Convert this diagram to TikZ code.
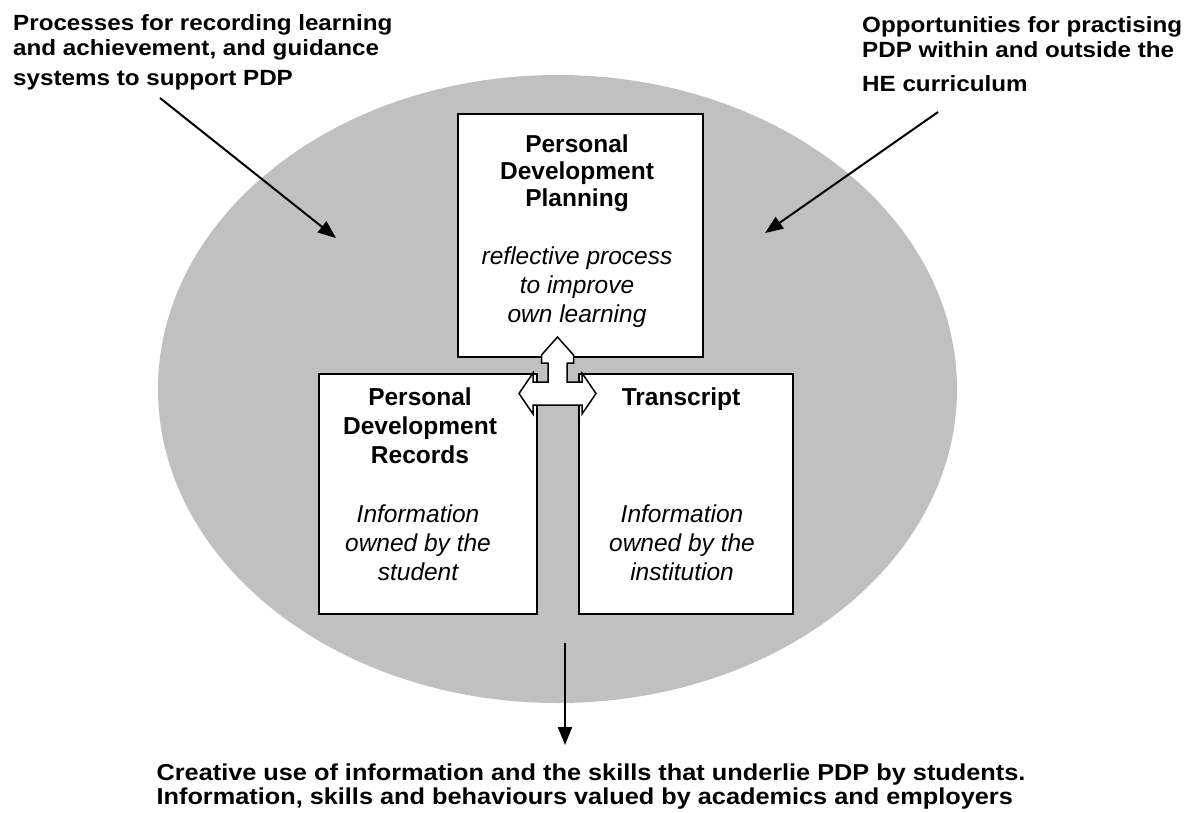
\documentclass[tikz,border=0pt]{standalone}
\usepackage{fontspec}
\setmainfont{Liberation Sans}
\newfontfamily\lblfont[FakeStretch=1.1]{Liberation Sans}
\usetikzlibrary{arrows.meta}
\definecolor{ellgray}{RGB}{192,192,192}
\begin{document}
\begin{tikzpicture}[x=1pt,y=-1pt,
  box/.style={draw=black,line width=2pt,fill=white,inner sep=0pt},
  lbl/.style={font=\lblfont\bfseries\fontsize{22}{25}\selectfont,align=left,inner sep=0pt,anchor=base west},
  btm/.style={font=\lblfont\bfseries\fontsize{23}{24}\selectfont,align=left,inner sep=0pt,anchor=base},
  ttl/.style={font=\bfseries\fontsize{24.5}{27}\selectfont,align=center,inner sep=0pt,anchor=base},
  ttlb/.style={font=\bfseries\fontsize{24.5}{29}\selectfont,align=center,inner sep=0pt,anchor=base},
  desc/.style={font=\itshape\fontsize{24.5}{29}\selectfont,align=center,inner sep=0pt,anchor=base},
  arr/.style={line width=2pt,-{Triangle[length=18pt,width=14pt]}},
  tarrow/.style={draw=black,line width=1.5pt,fill=white,line join=miter},
]
\useasboundingbox (0,0) rectangle (1191,812);
\fill[ellgray] (557.5,389) ellipse [x radius=399.5, y radius=314];

\node[box,minimum width=245pt,minimum height=243pt] (pdp) at (580.5,235.5) {};
\node[box,minimum width=218pt,minimum height=240pt] (pdr) at (428,494) {};
\node[box,minimum width=214pt,minimum height=240pt] (tr) at (686,494) {};

\node[ttl] (pdpt) at (577,206) {Personal\\Development\\Planning};
\node[desc] (pdpd) at (577,322) {reflective process\\to improve\\own learning};
\node[ttlb] (pdrt) at (420,463) {Personal\\Development\\Records};
\node[desc] (pdrd) at (418,580) {Information\\owned by the\\student};
\node[ttl] (trt) at (681,405) {Transcript};
\node[desc] (trd) at (682,580) {Information\\owned by the\\institution};

\draw[tarrow] (557.5,337) -- (573.5,355) -- (573.5,363) -- (567,363) -- (567,382)
  -- (582,382) -- (582,373) -- (596,393.5) -- (582,414) -- (582,405)
  -- (533,405) -- (533,414) -- (519,393.5) -- (533,373) -- (533,382)
  -- (548,382) -- (548,363) -- (541.5,363) -- (541.5,355) -- cycle;

\node[lbl] (tl) at (13,85) {Processes for recording learning\\and achievement, and guidance\\[5pt]systems to support PDP};
\node[lbl] (trl) at (862,91) {Opportunities for practising\\PDP within and outside the\\[9pt]HE curriculum};
\node[btm] (bt) at (591,804) {Creative use of information and the skills that underlie PDP by students.\\Information, skills and behaviours valued by academics and employers};

\coordinate (a1s) at (160,98);
\coordinate (a1e) at (336,238);
\coordinate (a2s) at (938,112);
\coordinate (a2e) at (765,233);
\coordinate (a3s) at (565,643);
\coordinate (a3e) at (565,745);
\draw[arr] (a1s) -- (a1e);
\draw[arr] (a2s) -- (a2e);
\draw[arr] (a3s) -- (a3e);
\end{tikzpicture}
\end{document}
